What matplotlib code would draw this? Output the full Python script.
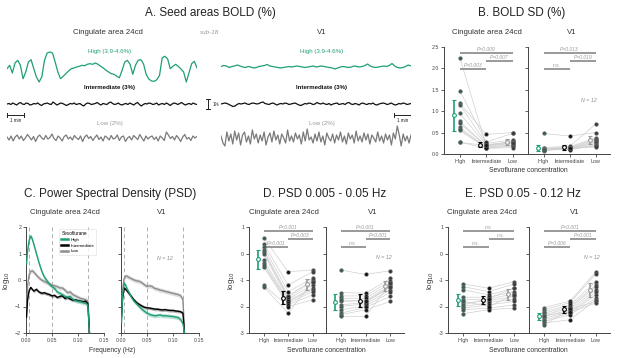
import numpy as np
import matplotlib
matplotlib.use('Agg')
import matplotlib.pyplot as plt

plt.rcParams['font.family'] = ['Liberation Sans', 'DejaVu Sans']

# ---------------- DATA ----------------
categories = ['High', 'Intermediate', 'Low']
conditions_label = ['High (3.9-4.6%)', 'Intermediate (3%)', 'Low (2%)']

# Panel A: BOLD traces (%), sub-18
trace_minutes = 11.1
a_cing_high = [-0.17, 0.17, -0.6, 0.4, 0.67, 0.17, -1.17, -0.5, 0.5, 0.73, -0.17, -1.0, -1.5, -1.0,
               0.67, 1.4, 1.5, 1.4, 0.5, -0.5, -1.17, -0.93, -0.67, -0.4, -0.17, -0.1, 0.0, 0.07,
               0.17, 0.13, 0.27, 0.33, 0.27, 0.4, 0.27, 0.07, -0.1, -0.33, -0.5, -0.67, -0.73,
               -0.93, -1.07, -0.33, 0.5, 0.67, 0.27, -0.73, 0.17, 0.67, 0.73, 0.33, -0.73, -1.2,
               -1.4, -1.43, -1.27, -0.83, 0.93, 1.07, 0.83, -0.17, 0.07, 0.27, 0.07, -0.2, -0.5,
               -1.5, -0.6, 0.33, 0.57, -0.1]
a_v1_high = [0.05, 0.15, 0.1, -0.05, 0.05, 0.1, 0.2, 0.1, 0.0, -0.05, 0.05, 0.0, -0.1, -0.05, 0.05,
             0.1, 0.15, 0.25, 0.1, 0.05, 0.0, -0.05, -0.1, -0.05, 0.0, 0.05, 0.0, 0.05, 0.1, 0.05,
             0.0, -0.05, 0.0, 0.05, 0.1, 0.0, 0.05, 0.1, 0.05, 0.0, -0.05, -0.1, -0.2, -0.1, 0.0,
             0.05, 0.0, -0.05, 0.0, 0.1, 0.05, 0.0, 0.05, 0.15, 0.3, 0.1, 0.0, -0.05, 0.0, 0.05,
             0.1, 0.05, 0.15, 0.35, 0.1, -0.05, -0.1, -0.05, 0.05, 0.2, 0.1]
a_cing_int = [0.0, 0.05, -0.05, 0.1, 0.0, -0.1, 0.05, 0.15, 0.0, -0.05, 0.1, 0.05, -0.1, -0.05, 0.05,
              0.0, 0.1, -0.05, -0.15, 0.0, 0.05, 0.1, 0.0, -0.05, 0.2, 0.05, -0.1, 0.0, 0.1, 0.05,
              -0.05, -0.15, -0.05, 0.05, 0.0, 0.1, -0.05, 0.0, 0.05, -0.1, -0.2, 0.0, 0.1, 0.05,
              -0.05, 0.0, 0.05, 0.15, 0.0, -0.1, 0.05, 0.0, -0.05, 0.1, 0.2, 0.05, -0.05, 0.0, 0.1,
              -0.05, -0.1, 0.0, 0.05, -0.05, 0.1, 0.0, -0.1, 0.05, 0.15, -0.05, -0.2, -0.05, 0.05,
              0.0, 0.1, 0.05, -0.05, 0.0, 0.1, -0.1, 0.0, 0.05, -0.05, 0.1, 0.0, -0.15, 0.0, 0.1,
              0.05, -0.05, 0.05, 0.15, 0.0, -0.1, 0.0, 0.05, -0.05, 0.1, 0.0, -0.05]
a_v1_int = [0.0, 0.05, 0.1, 0.05, -0.05, -0.15, -0.25, -0.2, -0.05, 0.05, 0.0, 0.05, 0.1, 0.0, -0.05,
            0.05, 0.1, 0.05, 0.0, 0.05, 0.15, 0.2, 0.05, 0.0, -0.05, 0.05, 0.1, 0.0, -0.1, 0.0, 0.05,
            0.0, 0.1, 0.05, -0.05, 0.0, 0.05, 0.1, 0.0, -0.1, -0.15, -0.05, 0.05, 0.0, 0.1, 0.05,
            -0.05, 0.0, 0.15, 0.05, 0.0, 0.1, 0.0, -0.05, 0.05, -0.1, 0.0, 0.05, 0.1, -0.05, 0.0,
            0.05, -0.05, 0.1, 0.15, 0.0, -0.05, 0.05, 0.0, -0.1, 0.05, 0.1, 0.0, -0.05, 0.05, 0.0,
            0.1, -0.05, -0.1, 0.0, 0.05, 0.1, 0.05, -0.05, 0.0, 0.1, 0.0, -0.1, -0.05, 0.05, 0.0,
            0.1, 0.05, -0.05, 0.0, 0.05]
a_cing_low = [0.1, -0.2, 0.2, -0.3, 0.1, 0.3, -0.1, 0.2, -0.25, 0.0, 0.35, 0.1, -0.2, 0.15, -0.35,
              0.1, 0.3, 0.0, -0.15, 0.25, -0.1, 0.05, 0.4, -0.05, -0.25, 0.2, 0.0, -0.3, 0.15, 0.3,
              -0.1, 0.1, -0.2, 0.25, 0.0, -0.15, 0.2, -0.35, 0.1, 0.3, -0.05, 0.15, -0.25, 0.05,
              0.3, -0.15, 0.1, -0.3, 0.2, 0.05, -0.2, 0.25, -0.1, 0.0, 0.3, -0.25, 0.1, 0.2, -0.35,
              0.0, 0.15, -0.2, 0.25, 0.05, -0.15, 0.35, 0.0, -0.3, 0.2, -0.1, 0.1, 0.2, -0.15,
              0.1, -0.3, 0.2, 0.0, -0.25, 0.6, 0.3, -0.05, 0.15, -0.2, 0.25, 0.0, -0.35, 0.1, 0.35,
              -0.1, 0.05, -0.25, 0.2, 0.0, 0.15]
a_v1_low = [0.2, -0.5, -0.8, 0.6, -0.3, 0.4, -0.6, 0.7, -0.2, 0.5, -0.7, 0.3, 0.6, -0.4, 0.2, -0.6,
            0.8, -0.1, 0.4, -0.5, 0.3, -0.3, 0.6, -0.7, 0.1, 0.5, -0.4, 0.7, -0.2, 0.3, -0.6, 0.4,
            0.0, -0.5, 0.8, -0.3, 0.2, -0.4, 0.5, -0.1, 0.3, -0.6, 0.6, -0.3, 0.9, -0.2, 0.1,
            -0.5, 0.4, -0.3, 0.6, -0.4, 0.2, -0.7, 0.5, 0.0, -0.3, 0.4, -0.5, 0.3, -0.2, 0.6,
            -0.4, 0.2, -0.6, 0.5, -0.1, 0.3, -0.5, 0.7, -0.3, 0.2, -0.4, 0.5, -0.2, 0.4, -0.6,
            0.3, 0.0, -0.4, 0.6, -0.3, 0.2, -0.5, 0.4, -0.2, 0.3, -0.7, 0.5, -0.1, 1.2, 0.3, -0.8,
            0.4, -0.3, 0.2, -0.5, 0.3]

# Panel B: BOLD SD (%)
b_cing_high = [2.25, 1.48, 1.19, 1.15, 0.95, 0.76, 0.72, 0.62, 0.58, 0.55, 0.28, 0.27]
b_cing_int = [0.20, 0.28, 0.46, 0.25, 0.22, 0.19, 0.18, 0.16, 0.15, 0.14, 0.13, 0.20]
b_cing_low = [0.30, 0.48, 0.50, 0.33, 0.28, 0.27, 0.25, 0.22, 0.20, 0.18, 0.15, 0.25]
b_v1_high = [0.48, 0.15, 0.13, 0.12, 0.10, 0.10, 0.09, 0.08, 0.10, 0.12, 0.11, 0.09]
b_v1_int = [0.42, 0.18, 0.17, 0.15, 0.14, 0.13, 0.12, 0.12, 0.11, 0.10, 0.13, 0.14]
b_v1_low = [0.50, 0.70, 0.38, 0.35, 0.33, 0.30, 0.28, 0.25, 0.22, 0.20, 0.18, 0.16]
b_cing_sig = ['P=0.003', 'P=0.007', 'P=0.009']
b_v1_sig = ['n.s.', 'P=0.019', 'P=0.013']

# Panel C: PSD (log10)
psd_freq = [0.001, 0.003, 0.006, 0.009, 0.012, 0.015, 0.02, 0.025, 0.03, 0.035, 0.04, 0.045, 0.05,
            0.055, 0.06, 0.065, 0.07, 0.075, 0.08, 0.085, 0.09, 0.095, 0.1, 0.105, 0.11, 0.115,
            0.119, 0.121, 0.122]
c_cing_high = [0.6, 1.1, 1.5, 1.66, 1.55, 1.35, 1.0, 0.65, 0.35, 0.12, -0.02, -0.15, -0.25, -0.32,
               -0.45, -0.5, -0.55, -0.62, -0.65, -0.62, -0.72, -0.78, -0.8, -0.82, -0.85, -0.88,
               -0.95, -1.6, -2.0]
c_cing_int = [-1.4, -0.75, -0.4, -0.28, -0.35, -0.42, -0.35, -0.45, -0.5, -0.48, -0.52, -0.55, -0.6,
              -0.58, -0.66, -0.62, -0.6, -0.7, -0.65, -0.72, -0.76, -0.75, -0.78, -0.8, -0.82,
              -0.8, -0.9, -1.6, -2.0]
c_cing_low = [-1.2, -0.2, 0.2, 0.33, 0.35, 0.3, 0.18, 0.08, 0.0, -0.05, -0.1, -0.15, -0.2, -0.22,
              -0.25, -0.3, -0.3, -0.38, -0.48, -0.45, -0.55, -0.6, -0.65, -0.7, -0.72, -0.75, -0.8,
              -1.5, -2.0]
c_v1_high = [-1.6, -0.6, -0.12, -0.2, -0.35, -0.45, -0.65, -0.8, -0.9, -1.0, -1.1, -1.18, -1.25,
             -1.3, -1.33, -1.35, -1.34, -1.32, -1.35, -1.35, -1.36, -1.37, -1.38, -1.4, -1.42,
             -1.5, -1.65, -1.85, -2.0]
c_v1_int = [-1.4, -0.7, -0.3, -0.35, -0.42, -0.5, -0.62, -0.75, -0.85, -0.92, -0.98, -1.03, -1.05,
            -1.06, -1.08, -1.1, -1.1, -1.12, -1.13, -1.12, -1.14, -1.15, -1.15, -1.17, -1.18, -1.2,
            -1.25, -1.7, -2.0]
c_v1_low = [-1.3, -0.4, 0.05, 0.15, 0.14, 0.1, 0.05, 0.0, -0.03, -0.05, -0.1, -0.18, -0.24, -0.22,
            -0.25, -0.32, -0.34, -0.38, -0.4, -0.43, -0.45, -0.48, -0.5, -0.53, -0.55, -0.6, -0.75,
            -1.5, -2.0]
c_sem = [0.08, 0.06, 0.08]
band_edges = [0.005, 0.05, 0.12]

# Panel D: PSD 0.005-0.05 Hz (log10)
d_cing_high = [0.6, 0.375, 0.25, 0.125, 0.06, 0.0, -0.25, -0.375, -0.44, -0.5, -1.19, -1.25]
d_cing_int = [-0.69, -1.19, -1.44, -1.6, -1.65, -1.72, -1.78, -1.81, -1.875, -1.94, -2.0, -2.25]
d_cing_low = [-0.62, -0.69, -0.94, -1.0, -1.06, -1.19, -1.31, -1.37, -1.44, -1.56, -1.75, -1.06]
d_v1_high = [-0.625, -1.475, -1.6, -1.69, -1.81, -1.94, -2.0, -2.125, -2.25, -2.31, -2.375, -1.75]
d_v1_int = [-0.79, -1.5, -1.6, -1.69, -1.78, -1.85, -1.9, -1.97, -2.03, -2.12, -2.375, -1.8]
d_v1_low = [-0.65, -0.94, -1.03, -1.12, -1.19, -1.27, -1.37, -1.47, -1.62, -1.81, -1.12, -1.25]
d_cing_sig = ['P<0.001', 'P=0.003', 'P<0.001']
d_v1_sig = ['n.s.', 'P<0.001', 'P<0.001']

# Panel E: PSD 0.05-0.12 Hz (log10)
e_cing_high = [-1.15, -1.25, -1.37, -1.65, -1.75, -1.875, -2.0, -2.06, -2.12, -2.27, -1.8, -1.94]
e_cing_int = [-1.31, -1.44, -1.56, -1.65, -1.72, -1.78, -1.85, -1.94, -2.06, -2.12, -2.0, -1.7]
e_cing_low = [-1.06, -1.15, -1.31, -1.44, -1.52, -1.62, -1.72, -1.81, -1.94, -2.06, -1.56, -1.3]
e_v1_high = [-2.04, -2.12, -2.19, -2.25, -2.31, -2.375, -2.44, -2.5, -2.56, -2.62, -2.69, -2.34]
e_v1_int = [-1.79, -1.85, -1.94, -2.0, -2.06, -2.12, -2.19, -2.25, -2.31, -2.5, -2.1, -2.2]
e_v1_low = [-0.69, -0.775, -1.06, -1.19, -1.25, -1.37, -1.47, -1.56, -1.69, -1.75, -1.81, -1.87]
e_cing_sig = ['n.s.', 'n.s.', 'n.s.']
e_v1_sig = ['P=0.006', 'P<0.001', 'P<0.001']

n_subjects = 12

# ---------------- STYLE ----------------
W, H = 617, 358
GREEN = '#1f9e78'
C_COLORS = [GREEN, '#000000', '#8c8c8c']
PT_COLORS = ['#3d5a55', '#161616', '#3c3c3c']
EB_COLORS = [GREEN, '#000000', '#9a9a9a']
SIG_COLOR = '#888888'

fig = plt.figure(figsize=(W / 100, H / 100), dpi=100)


def ax_px(x0, y0, x1, y1):
    return fig.add_axes([x0 / W, 1 - y1 / H, (x1 - x0) / W, (y1 - y0) / H])


def ftext(x, y, s, **kw):
    kw.setdefault('ha', 'center')
    kw.setdefault('va', 'center')
    fig.text(x / W, 1 - y / H, s, **kw)


def style_axis(ax):
    for s in ['top', 'right']:
        ax.spines[s].set_visible(False)
    for s in ['left', 'bottom']:
        ax.spines[s].set_color('#444444')
        ax.spines[s].set_linewidth(0.7)
    ax.tick_params(length=2, width=0.6, color='#444444', labelsize=3.8, pad=1.5,
                   labelcolor='#444444')


# ---------------- PANEL A ----------------
ftext(210, 13, 'A. Seed areas BOLD (%)', fontsize=8.5, color='#222222')
ftext(108, 33, 'Cingulate area 24cd', fontsize=5.6, color='#333333')
ftext(210, 32, 'sub-18', fontsize=4.5, color='#999999', style='italic')
ftext(322, 33, 'V1', fontsize=5.6, color='#333333')

offsets = [8.3, 4.6, 1.2]
trace_sets = [(a_cing_high, a_cing_int, a_cing_low), (a_v1_high, a_v1_int, a_v1_low)]
trace_colors = [GREEN, '#111111', '#7a7a7a']
for k, (x0, x1) in enumerate([(7, 197), (221, 411)]):
    ax = ax_px(x0, 45, x1, 150)
    ax.set_xlim(0, trace_minutes)
    ax.set_ylim(0, 10.5)
    ax.axis('off')
    for j, tr in enumerate(trace_sets[k]):
        t = np.linspace(0, trace_minutes, len(tr))
        ax.plot(t, np.array(tr) + offsets[j], color=trace_colors[j], lw=0.9)
    # 1 min scale bar
    sb0 = 0 if k == 0 else trace_minutes - 1
    ax.plot([sb0, sb0 + 1], [3.5, 3.5], color='#222222', lw=0.7)
    ax.plot([sb0, sb0], [3.3, 3.7], color='#222222', lw=0.7)
    ax.plot([sb0 + 1, sb0 + 1], [3.3, 3.7], color='#222222', lw=0.7)
    ax.text(sb0 + 0.5, 3.15, '1 min', fontsize=3.3, ha='center', va='top', color='#222222')
    if k == 0:
        xb = trace_minutes + 0.65
        ax.plot([xb, xb], [4.1, 5.1], color='#222222', lw=0.7, clip_on=False)
        ax.plot([xb - 0.12, xb + 0.12], [4.1, 4.1], color='#222222', lw=0.7, clip_on=False)
        ax.plot([xb - 0.12, xb + 0.12], [5.1, 5.1], color='#222222', lw=0.7, clip_on=False)
        ax.text(xb + 0.25, 4.6, '1%', fontsize=3.3, ha='left', va='center', color='#222222')

for xc in [110, 322]:
    ftext(xc, 52, conditions_label[0], fontsize=4.4, color=GREEN)
    ftext(xc, 88, conditions_label[1], fontsize=4.4, color='#111111', fontweight='semibold')
    ftext(xc, 124, conditions_label[2], fontsize=4.4, color='#9a9a9a')


# ---------------- condition panels ----------------
def cond_panel(ax, groups, sig, sig_y, ylim, yticks, fmt, left=True, n_pos=None):
    style_axis(ax)
    pos = np.arange(3)
    for i in range(len(groups[0])):
        ax.plot(pos, [g[i] for g in groups], color='#d0d0d0', lw=0.5, zorder=1)
    for j, g in enumerate(groups):
        ax.plot(np.full(len(g), pos[j]), g, 'o', ms=2.7, mfc=PT_COLORS[j], mec='#777777',
                mew=0.3, zorder=3, ls='none')
        arr = np.array(g)
        m = arr.mean()
        ci = 2.201 * arr.std(ddof=1) / np.sqrt(len(arr))
        ax.errorbar(pos[j] - 0.22, m, yerr=ci, fmt='o', ms=2.7, mfc='white', mec=EB_COLORS[j],
                    mew=0.8, color=EB_COLORS[j], elinewidth=1.2, capsize=1.6, capthick=0.9,
                    zorder=4)
    pairs = [(0, 1), (1, 2), (0, 2)]
    for (a, b), s, yy in zip(pairs, sig, sig_y):
        ax.plot([a, b], [yy, yy], color=SIG_COLOR, lw=1.2, solid_capstyle='butt', zorder=2)
        ax.text((a + b) / 2, yy + (ylim[1] - ylim[0]) * 0.008, s, fontsize=3.6, style='italic',
                color='#9a9a9a', ha='center', va='bottom')
    ax.set_xlim(-0.6, 2.55)
    ax.set_ylim(*ylim)
    ax.set_yticks(yticks)
    ax.yaxis.set_major_formatter(plt.FormatStrFormatter(fmt))
    ax.set_xticks(pos)
    ax.set_xticklabels(categories, fontsize=3.9)
    if not left:
        ax.tick_params(labelleft=False)
    if n_pos is not None:
        ax.text(n_pos[0], n_pos[1], 'N = %d' % n_subjects, fontsize=3.8, style='italic',
                color='#8a8a8a', ha='center', va='center')


# Panel B
ftext(522, 13, 'B. BOLD SD (%)', fontsize=8.5, color='#222222')
ftext(487, 33, 'Cingulate area 24cd', fontsize=5.6, color='#333333')
ftext(572, 33, 'V1', fontsize=5.6, color='#333333')
axb1 = ax_px(444, 47, 527, 154)
cond_panel(axb1, [b_cing_high, b_cing_int, b_cing_low], b_cing_sig, [1.98, 2.18, 2.37],
           (0, 2.5), [0, 0.5, 1.0, 1.5, 2.0, 2.5], '%.1f')
axb2 = ax_px(528, 47, 610, 154)
cond_panel(axb2, [b_v1_high, b_v1_int, b_v1_low], b_v1_sig, [1.98, 2.18, 2.37],
           (0, 2.5), [0, 0.5, 1.0, 1.5, 2.0, 2.5], '%.1f', left=False, n_pos=(1.75, 1.25))
ftext(528, 170, 'Sevoflurane concentration', fontsize=4.9, color='#333333')

# Panel D
ftext(325, 194, 'D. PSD 0.005 - 0.05 Hz', fontsize=8.5, color='#222222')
ftext(284, 212, 'Cingulate area 24cd', fontsize=5.6, color='#333333')
ftext(373, 212, 'V1', fontsize=5.6, color='#333333')
axd1 = ax_px(249, 227, 326, 333)
cond_panel(axd1, [d_cing_high, d_cing_int, d_cing_low], d_cing_sig, [0.25, 0.55, 0.85],
           (-3, 1), [-3, -2, -1, 0, 1], '%d')
axd1.set_ylabel('log$_{10}$', fontsize=5.6, labelpad=2, color='#333333')
axd2 = ax_px(326, 227, 404, 333)
cond_panel(axd2, [d_v1_high, d_v1_int, d_v1_low], d_v1_sig, [0.25, 0.55, 0.85],
           (-3, 1), [-3, -2, -1, 0, 1], '%d', left=False, n_pos=(1.75, -0.15))
ftext(326, 350, 'Sevoflurane concentration', fontsize=4.9, color='#333333')

# Panel E
ftext(523, 194, 'E. PSD 0.05 - 0.12 Hz', fontsize=8.5, color='#222222')
ftext(482, 212, 'Cingulate area 24cd', fontsize=5.6, color='#333333')
ftext(575, 212, 'V1', fontsize=5.6, color='#333333')
axe1 = ax_px(448, 227, 528, 333)
cond_panel(axe1, [e_cing_high, e_cing_int, e_cing_low], e_cing_sig, [0.25, 0.55, 0.85],
           (-3, 1), [-3, -2, -1, 0, 1], '%d')
axe1.set_ylabel('log$_{10}$', fontsize=5.6, labelpad=2, color='#333333')
axe2 = ax_px(529, 227, 610, 333)
cond_panel(axe2, [e_v1_high, e_v1_int, e_v1_low], e_v1_sig, [0.25, 0.55, 0.85],
           (-3, 1), [-3, -2, -1, 0, 1], '%d', left=False, n_pos=(1.85, -0.15))
ftext(528, 350, 'Sevoflurane concentration', fontsize=4.9, color='#333333')

# Panel C
ftext(110, 194, 'C. Power Spectral Density (PSD)', fontsize=8.5, color='#222222')
ftext(65, 212, 'Cingulate area 24cd', fontsize=5.6, color='#333333')
ftext(162, 212, 'V1', fontsize=5.6, color='#333333')
psd_sets = [(c_cing_high, c_cing_int, c_cing_low), (c_v1_high, c_v1_int, c_v1_low)]
for k, (x0, x1) in enumerate([(26, 104), (121, 199)]):
    ax = ax_px(x0, 227, x1, 333)
    style_axis(ax)
    f = np.array(psd_freq)
    for fe in band_edges:
        ax.axvline(fe, color='#b0b0b0', ls=(0, (4, 3)), lw=0.7, zorder=1)
    for j in [2, 1, 0]:
        v = np.array(psd_sets[k][j])
        ax.fill_between(f, v - c_sem[j], v + c_sem[j], color=C_COLORS[j], alpha=0.3, lw=0,
                        zorder=2)
        ax.plot(f, v, color=C_COLORS[j], lw=1.0, zorder=3, label=categories[j])
    ax.set_xlim(0, 0.15)
    ax.set_ylim(-2, 2)
    ax.set_xticks([0, 0.05, 0.10, 0.15])
    ax.xaxis.set_major_formatter(plt.FormatStrFormatter('%.2f'))
    ax.set_yticks([-2, -1, 0, 1, 2])
    if k == 0:
        ax.set_ylabel('log$_{10}$', fontsize=5.6, labelpad=2, color='#333333')
        h, l = ax.get_legend_handles_labels()
        order = [2, 1, 0]
        leg = ax.legend([h[i] for i in order], [l[i] for i in order], title='Sevoflurane',
                        fontsize=3.2, title_fontsize=3.4, loc='upper left',
                        bbox_to_anchor=(0.4, 1.0), frameon=True, handlelength=1.5,
                        handletextpad=0.5, borderpad=0.45, labelspacing=0.35)
        leg._legend_box.align = 'left'
        leg.get_frame().set_edgecolor('#dddddd')
        leg.get_frame().set_linewidth(0.5)
        for line in leg.get_lines():
            line.set_linewidth(1.8)
    else:
        ax.tick_params(labelleft=False)
        ax.text(0.084, 0.82, 'N = %d' % n_subjects, fontsize=3.8, style='italic',
                color='#8a8a8a', ha='center', va='center')
ftext(112, 350, 'Frequency (Hz)', fontsize=4.9, color='#333333')

fig.savefig('out.png', dpi=100)
